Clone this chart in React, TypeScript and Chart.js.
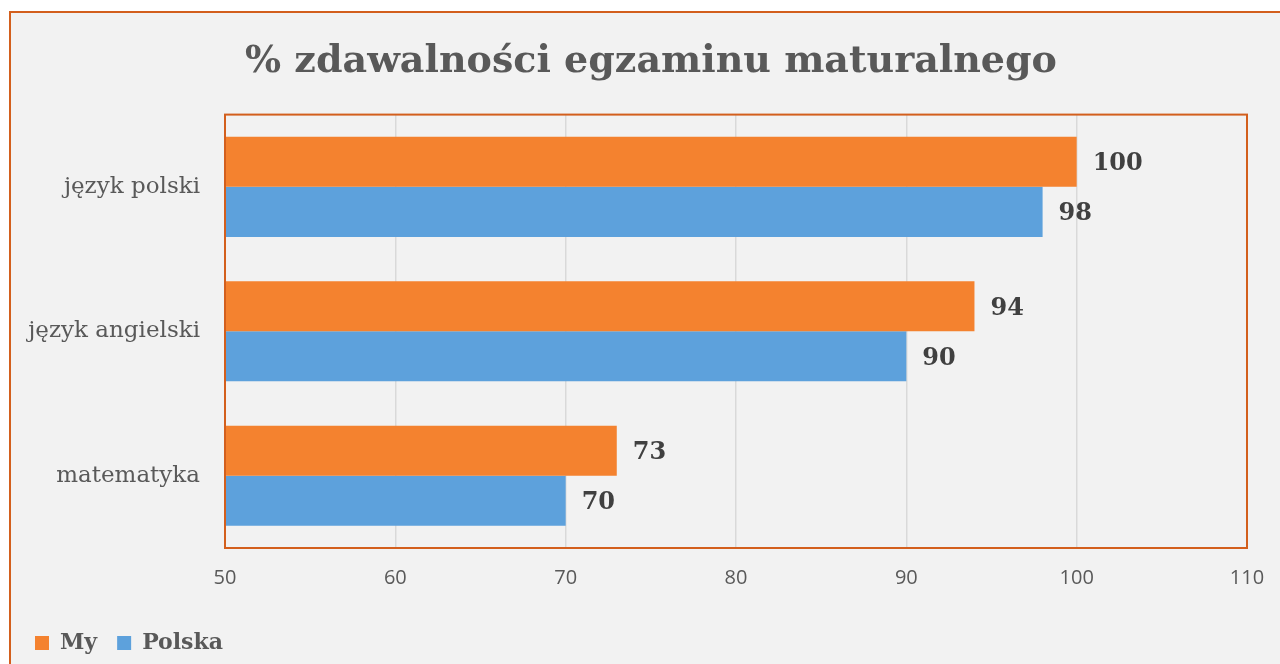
import React, { useEffect, useRef } from "react";
import { Chart, registerables } from "chart.js";

Chart.register(...registerables);

const categories = ["język polski", "język angielski", "matematyka"];
const seriesMy = [100, 94, 73];
const seriesPolska = [98, 90, 70];
const xTicks = [50, 60, 70, 80, 90, 100, 110];
const titleText = "% zdawalności egzaminu maturalnego";

const ORANGE = "#F4822F";
const BLUE = "#5DA1DC";
const BORDER = "#D35F1D";

const boxPlugin = {
  id: "boxPlugin",
  afterLayout(chart: any) {
    if (chart.titleBlock) {
      chart.titleBlock.left = 55;
    }
  },
  afterDatasetsDraw(chart: any) {
    const { ctx, chartArea } = chart;
    ctx.save();
    ctx.strokeStyle = BORDER;
    ctx.lineWidth = 2;
    ctx.strokeRect(chartArea.left, chartArea.top, chartArea.right - chartArea.left, chartArea.bottom - chartArea.top);
    ctx.restore();
  },
};

const labelPlugin = {
  id: "labelPlugin",
  afterDraw(chart: any) {
    const { ctx } = chart;
    ctx.save();
    ctx.font = "bold 24px 'DejaVu Serif'";
    ctx.fillStyle = "#404040";
    ctx.textAlign = "left";
    ctx.textBaseline = "middle";
    chart.data.datasets.forEach((ds: any, di: number) => {
      const meta = chart.getDatasetMeta(di);
      meta.data.forEach((bar: any, i: number) => {
        ctx.fillText(String(ds.data[i]), bar.x + 16, bar.y + 2);
      });
    });
    ctx.restore();
  },
};

export default function App() {
  const ref = useRef<HTMLCanvasElement>(null);
  useEffect(() => {
    document.body.style.margin = "0";
    document.body.style.overflow = "hidden";
    const chart = new Chart(ref.current!, {
      type: "bar",
      data: {
        labels: categories,
        datasets: [
          { label: "My", data: seriesMy, backgroundColor: ORANGE, borderWidth: 0 },
          { label: "Polska", data: seriesPolska, backgroundColor: BLUE, borderWidth: 0 },
        ],
      },
      options: {
        indexAxis: "y",
        responsive: false,
        animation: false,
        datasets: { bar: { categoryPercentage: 0.693, barPercentage: 1 } },
        layout: { padding: { left: 15, right: 33, top: 0, bottom: 0 } },
        scales: {
          x: {
            min: 50,
            max: 110,
            afterBuildTicks(scale: any) {
              scale.ticks = xTicks.map((v) => ({ value: v }));
            },
            grid: { color: "#D9D9D9", lineWidth: 1.5, drawTicks: false },
            border: { display: false },
            ticks: {
              padding: 18,
              color: "#595959",
              font: { family: "'Open Sans'", size: 20 },
            },
            afterFit(scale: any) {
              scale.height = 64;
              scale.paddingRight = 0;
            },
          },
          y: {
            grid: { display: false, drawTicks: false },
            border: { display: false },
            ticks: {
              padding: 25,
              color: "#595959",
              font: { family: "'DejaVu Serif'", size: 23 },
            },
            afterFit(scale: any) {
              scale.width = 210;
            },
          },
        },
        plugins: {
          title: {
            display: true,
            text: titleText,
            color: "#595959",
            font: { family: "'DejaVu Serif'", size: 38, weight: "bold", lineHeight: 1.2 },
            padding: { top: 39, bottom: 30 },
          },
          legend: {
            position: "bottom",
            align: "start",
            labels: {
              boxWidth: 14,
              boxHeight: 14,
              padding: 20,
              color: "#595959",
              font: { family: "'DejaVu Serif'", size: 22, weight: "bold" },
            },
          },
          tooltip: { enabled: false },
        },
      },
      plugins: [boxPlugin, labelPlugin],
    });
    return () => chart.destroy();
  }, []);

  return (
    <div style={{ position: "fixed", left: 0, top: 0, width: 1280, height: 664, overflow: "hidden", background: "#fff" }}>
      <div
        style={{
          position: "absolute",
          left: 9,
          top: 11,
          width: 1320,
          height: 720,
          border: `2px solid ${BORDER}`,
          background: "#F2F2F2",
        }}
      />
      <canvas ref={ref} width={1280} height={664} style={{ position: "absolute", left: 0, top: 0 }} />
    </div>
  );
}
